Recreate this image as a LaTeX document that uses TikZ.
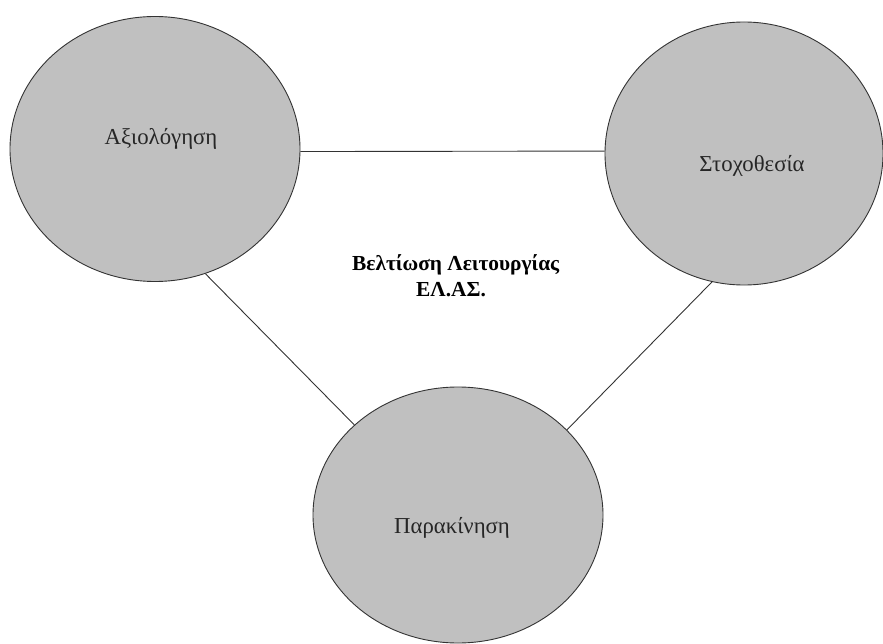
\documentclass[tikz,border=0pt]{standalone}
\usepackage{fontspec}
\setmainfont{Liberation Serif}
\usetikzlibrary{shapes.geometric}
\definecolor{ellfill}{HTML}{C0C0C0}
\definecolor{edgecol}{HTML}{333333}
\tikzset{
  bubble/.style={ellipse, draw=edgecol, fill=ellfill, line width=0.9pt, inner sep=0pt},
  lbl/.style={anchor=base, font=\fontsize{22.8}{26}\selectfont, text=black!85, inner sep=0pt},
  link/.style={draw=edgecol, line width=0.9pt}
}
\begin{document}
\begin{tikzpicture}[x=1pt, y=-1pt]
\useasboundingbox (0,0) rectangle (883,644);
\node[bubble, minimum width=290pt, minimum height=265pt] (e1) at (155,149) {};
\node[bubble, minimum width=278pt, minimum height=263pt] (e2) at (744,153.5) {};
\node[bubble, minimum width=290pt, minimum height=256pt] (e3) at (458,515) {};
\draw[link] (e1.-1.2) -- (e2.179.4);
\draw[link] (e1.-68) -- (e3.139.4);
\draw[link] (e2.-104.8) -- (e3.38.9);
\node[lbl] (t1) at (161,145) {Αξιολόγηση};
\node[lbl] (t2) at (752,172) {Στοχοθεσία};
\node[lbl] (t3) at (452,533) {Παρακίνηση};
\node[anchor=base west, font=\bfseries\fontsize{21.4}{27}\selectfont, align=left, inner sep=0pt] (ct) at (352,297) {Βελτίωση Λειτουργίας\\\hspace*{64pt}ΕΛ.ΑΣ.};
\end{tikzpicture}
\end{document}
